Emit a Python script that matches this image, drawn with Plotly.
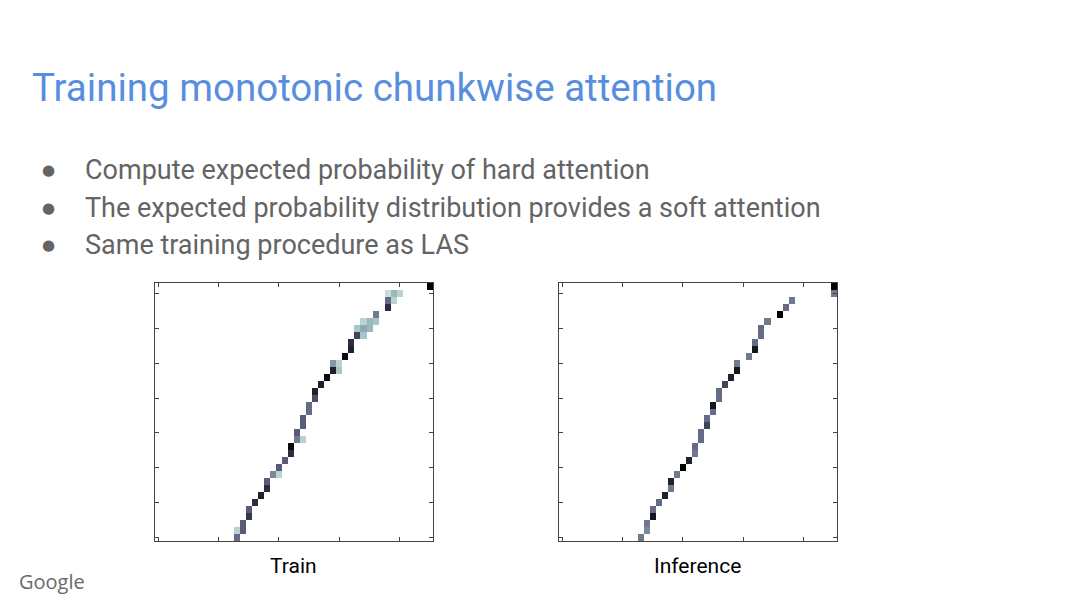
import plotly.graph_objects as go

# attention matrices: 37 output steps (rows, bottom to top) x 46 encoder frames
N_ROWS = 37
N_COLS = 46

# Train (soft / expected attention): peak column per output step and its weight
train_col = [13, 14, 14, 15, 15, 16, 17, 18, 18, 19, 20, 21, 22, 22, 23, 23, 24, 24, 25, 25,
             26, 26, 27, 28, 29, 29, 31, 32, 32, 33, 34, 35, 36, 38, 38, 39, 45]
train_val = [0.55, 0.6, 0.6, 0.75, 0.6, 0.8, 0.85, 0.8, 0.6, 0.45, 0.6, 0.6, 0.8, 0.95, 0.5,
             0.6, 0.6, 0.6, 0.55, 0.55, 0.65, 0.85, 0.85, 0.95, 0.85, 0.4, 0.95, 0.85, 0.8, 0.7,
             0.35, 0.3, 0.5, 0.8, 0.55, 0.3, 1.0]
# spill-over to the neighbouring frames
train_left = [0, 0.2, 0, 0, 0, 0, 0, 0, 0, 0, 0, 0, 0, 0, 0, 0, 0, 0, 0, 0,
              0, 0, 0, 0, 0, 0, 0, 0, 0, 0, 0.25, 0.2, 0, 0, 0, 0.15, 0]
train_right = [0, 0, 0, 0, 0, 0, 0, 0, 0, 0.2, 0, 0, 0, 0, 0.2, 0, 0, 0, 0, 0,
               0, 0, 0, 0, 0.25, 0.2, 0, 0, 0, 0.25, 0.3, 0.25, 0, 0, 0.2, 0.2, 0]

# Inference (hard attention)
inf_col = [13, 14, 14, 15, 15, 16, 17, 18, 18, 19, 20, 21, 22, 22, 23, 23, 24, 24, 25, 25,
           26, 26, 27, 28, 29, 29, 31, 32, 32, 33, 33, 34, 36, 37, 38, 45, 45]
inf_val = [0.5, 0.45, 0.5, 0.9, 0.55, 0.55, 0.85, 0.5, 0.85, 0.5, 1.0, 0.85, 0.5, 0.55, 0.55,
           0.55, 0.7, 0.55, 0.55, 0.9, 0.55, 0.55, 0.7, 0.85, 0.9, 0.5, 0.5, 0.9, 0.55, 0.55,
           0.55, 0.5, 1.0, 0.55, 0.5, 0.5, 1.0]

bullets = [
    "Compute expected probability of hard attention",
    "The expected probability distribution provides a soft attention",
    "Same training procedure as LAS",
]
bullet_y = [170, 208, 245]

# matplotlib bone_r
bone_r = [[0.0, "rgb(255,255,255)"], [0.254, "rgb(166,198,198)"],
          [0.635, "rgb(81,81,113)"], [1.0, "rgb(0,0,0)"]]


def build_matrix(cols, vals, left=None, right=None):
    z = [[0.0] * N_COLS for _ in range(N_ROWS)]
    for r in range(N_ROWS):
        c = cols[r]
        z[r][c] = vals[r]
        if left and c - 1 >= 0:
            z[r][c - 1] = max(z[r][c - 1], left[r])
        if right and c + 1 < N_COLS:
            z[r][c + 1] = max(z[r][c + 1], right[r])
    return z


z_train = build_matrix(train_col, train_val, train_left, train_right)
z_inf = build_matrix(inf_col, inf_val)

fig = go.Figure()
for z, xa, ya in [(z_train, "x", "y"), (z_inf, "x2", "y2")]:
    fig.add_trace(go.Heatmap(
        z=z, x=list(range(N_COLS)), y=list(range(N_ROWS)),
        colorscale=bone_r, zmin=0, zmax=1, showscale=False,
        xaxis=xa, yaxis=ya, hoverinfo="skip"
    ))

W, H = 1080, 607
OFF = 8  # page body margin


def px(x):
    return (x - OFF) / W


def py(y):
    return 1 - (y - OFF) / H


ax_common = dict(showline=True, linecolor="#444", linewidth=1.2, mirror="ticks",
                 ticks="inside", ticklen=4, tickcolor="#444", showticklabels=False,
                 showgrid=False, zeroline=False)

fig.update_layout(
    width=W, height=H,
    margin=dict(l=0, r=0, t=0, b=0),
    paper_bgcolor="white", plot_bgcolor="white",
    xaxis=dict(domain=[px(155), px(433)], range=[-0.5, N_COLS - 0.5], tick0=0, dtick=10, **ax_common),
    yaxis=dict(domain=[py(541), py(283)], range=[-0.5, N_ROWS - 0.5], tick0=0, dtick=5, **ax_common),
    xaxis2=dict(domain=[px(559), px(837)], range=[-0.5, N_COLS - 0.5], tick0=0, dtick=10, anchor="y2", **ax_common),
    yaxis2=dict(domain=[py(541), py(283)], range=[-0.5, N_ROWS - 0.5], tick0=0, dtick=5, anchor="x2", **ax_common),
)

annotations = [
    dict(text="Training monotonic chunkwise attention", x=px(30), y=py(87),
         font=dict(family="Roboto", size=38.5, color="rgb(88,142,224)")),
    dict(text="Train", x=px(293), y=py(566), xanchor="center",
         font=dict(family="Roboto", size=21, color="black")),
    dict(text="Inference", x=px(697), y=py(566), xanchor="center",
         font=dict(family="Roboto", size=21, color="black")),
    dict(text="Google", x=px(17), y=py(581),
         font=dict(family="Open Sans", size=20, color="rgb(105,105,105)")),
]
for b, yy in zip(bullets, bullet_y):
    annotations.append(dict(text="●", x=px(40), y=py(yy),
                            font=dict(family="DejaVu Sans", size=15, color="rgb(100,100,100)")))
    annotations.append(dict(text=b, x=px(83), y=py(yy),
                            font=dict(family="Roboto", size=27, color="rgb(100,100,100)")))

for a in annotations:
    a.setdefault("xanchor", "left")
    a.update(xref="paper", yref="paper", yanchor="middle", showarrow=False)
fig.update_layout(annotations=annotations)

fig.write_html("out.html")
